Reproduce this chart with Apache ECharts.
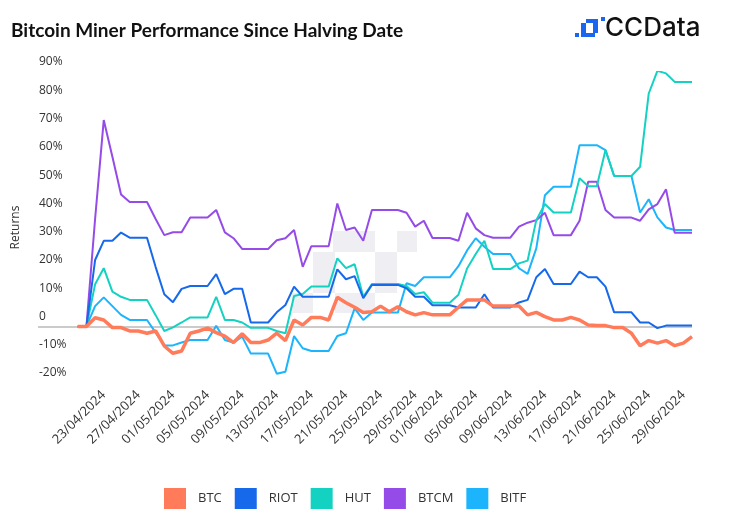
<!DOCTYPE html>
<html><head><meta charset="utf-8">
<script src="https://cdn.jsdelivr.net/npm/echarts@6/dist/echarts.min.js"></script>
<style>html,body{margin:0;padding:0;background:#fff}#c{width:735px;height:517px}</style>
</head><body><div id="c"></div>
<script>
// daily points from the halving date (20/04/2024) to 30/06/2024
const firstDay = [2024, 3, 20];
const dayCount = 72;

const BTC = [0,0,3.1,2.3,-0.4,-0.4,-1.6,-1.6,-2.4,-1.6,-6.9,-9.5,-8.7,-2.4,-1.6,-0.6,-2.2,-3.4,-5.7,-2.6,
  -5.7,-5.7,-4.8,-2.4,-5,2.3,0.5,3.2,3.2,2.3,10.3,8.4,6.8,4.9,5.2,7.2,5.2,7,5.2,4.1,
  4.9,4.1,4.1,4.1,6.8,9.4,9.4,9.4,7.2,7.2,7.2,7.2,4.1,5,3.5,2.3,2.3,3.2,2.3,0.5,
  0.3,0.3,-0.4,-0.4,-2.4,-6.8,-5,-5.9,-5,-6.8,-5.9,-3.6];
const RIOT = [0,0,23.5,30.3,30.3,33.2,31.4,31.4,31.4,21,11.4,8.6,13.3,14.3,14.3,14.3,18.5,11.4,13.3,13.3,
  1.4,1.4,1.4,5,7.6,14.1,10.5,10.5,10.5,10.5,20.2,16.7,17.8,10,14.7,14.7,14.7,14.7,13.5,10.5,
  10.5,7.5,7.5,7.5,6.7,6.7,6.7,11.4,6.7,6.7,6.7,8.5,9.4,17.4,20.3,15,15,15,19.4,17.4,
  17.4,14.1,5,5,5,1.4,1.4,-0.6,0.3,0.3,0.3,0.3];
const HUT = [0,0,14.9,20.6,12.3,10.5,9.4,9.4,9.4,4,-1.6,-0.3,1.4,3.2,3.2,3.2,10.5,2.3,2.3,1.4,
  -0.5,-0.5,-0.5,-1.6,-2.4,10.8,11.5,14.1,14.1,14.1,24.1,20.6,22,10.5,15,15,15,15,14.3,11.5,
  12.1,8.4,8.4,8.4,11.2,20.5,25.6,30.3,20.3,20.3,20.3,22.3,23.3,37.6,43.3,40.3,40.3,40.3,52.4,49.6,
  49.6,62.4,53.2,53.2,53.2,56.5,82.4,90.4,89.5,86.5,86.5,86.5];
const BTCM = [0,0,38,73,60,46.7,44,44,44,38,32.3,33.3,33.3,38.5,38.5,38.5,41.2,33.3,31.2,27.4,
  27.4,27.4,27.4,30.5,31.2,34.1,21.1,28.4,28.4,28.4,43.5,34.1,35,30.3,41.2,41.2,41.2,41.2,40.2,35.3,
  37.4,31.3,31.3,31.3,30.3,40.2,34.7,32.3,31.4,31.4,31.4,35.3,36.7,37.6,40.2,32.3,32.3,32.3,37.4,51.2,
  51.2,41.2,38.5,38.5,38.5,37.4,41.4,43.3,48.5,33.1,33.1,33.1];
const BITF = [0,0,7.2,10.3,7.2,4.1,2.3,2.3,2.3,-2.2,-6.7,-6.7,-5.7,-4.8,-4.8,-4.8,0.2,-4.8,-5.7,-3.6,
  -9.6,-9.6,-9.6,-16.7,-16,-3.4,-7.7,-8.7,-8.7,-8.7,-3.4,-2.4,6.4,2.3,4.9,4.9,4.9,4.9,15.3,14.3,
  17.4,17.4,17.4,17.4,21.3,26.9,31.2,28.2,25.6,25.6,25.6,20.6,18.6,27.6,46.4,49.4,49.4,49.4,64.1,64.1,
  64.1,62.4,53.2,53.2,53.2,40.3,45,38.6,35,34.1,34.1,34.1];

const tickLabels = ['23/04/2024','27/04/2024','01/05/2024','05/05/2024','09/05/2024','13/05/2024',
  '17/05/2024','21/05/2024','25/05/2024','29/05/2024','01/06/2024','05/06/2024','09/06/2024',
  '13/06/2024','17/06/2024','21/06/2024','25/06/2024','29/06/2024'];

const seriesNames = ['BTC','RIOT','HUT','BTCM','BITF'];
const seriesValues = {BTC, RIOT, HUT, BTCM, BITF};
const seriesColors = {BTC:'#ff7b5a', RIOT:'#1669ea', HUT:'#14d2c2', BTCM:'#954be7', BITF:'#1cb5fd'};

const DAY = 864e5;
const t0 = Date.UTC(firstDay[0], firstDay[1], firstDay[2]);
const pad2 = n => (n < 10 ? '0' : '') + n;
const fmt = t => { const d = new Date(t); return pad2(d.getUTCDate()) + '/' + pad2(d.getUTCMonth() + 1) + '/' + d.getUTCFullYear(); };
const dates = Array.from({length: dayCount}, (_, i) => fmt(t0 + i * DAY));   // categories
const tickIndex = tickLabels.map(s => dates.indexOf(s));

const chart = echarts.init(document.getElementById('c'));
const drawOrder = ['BITF','BTCM','HUT','RIOT','BTC'];
const wm = '#efeff3';
const clear = 'rgba(0,0,0,0)';
chart.setOption({
  animation: false,
  backgroundColor: '#fff',
  textStyle: {fontFamily: 'Open Sans'},
  title: {
    text: 'Bitcoin Miner Performance Since Halving Date',
    left: 6, top: 16,
    textStyle: {fontFamily: 'Lato', fontWeight: 'bold', fontSize: 19, color: '#111'}
  },
  graphic: [
    {type: 'group', left: 292, top: 231, z: 0, silent: true, children: [
      {type: 'rect', shape: {x: 41, y: 0, width: 42, height: 21}, style: {fill: wm}},
      {type: 'rect', shape: {x: 105, y: 0, width: 20, height: 21}, style: {fill: wm}},
      {type: 'rect', shape: {x: 21, y: 21, width: 22, height: 41}, style: {fill: wm}},
      {type: 'rect', shape: {x: 83, y: 21, width: 22, height: 41}, style: {fill: wm}},
      {type: 'rect', shape: {x: 0, y: 62, width: 21, height: 20}, style: {fill: wm}},
      {type: 'rect', shape: {x: 43, y: 62, width: 40, height: 20}, style: {fill: wm}}
    ]},
    {type: 'group', left: 575, top: 17, silent: true, children: [
      {type: 'rect', shape: {x: 0, y: 16, width: 4, height: 4}, style: {fill: '#1b66f0'}},
      {type: 'rect', shape: {x: 6, y: 6, width: 5, height: 14}, style: {fill: '#1b66f0'}},
      {type: 'rect', shape: {x: 6, y: 16, width: 14, height: 4}, style: {fill: '#1b66f0'}},
      {type: 'rect', shape: {x: 11, y: 2, width: 12, height: 4}, style: {fill: '#1b66f0'}},
      {type: 'rect', shape: {x: 18, y: 2, width: 5, height: 14}, style: {fill: '#1b66f0'}},
      {type: 'rect', shape: {x: 26, y: 0, width: 4, height: 4}, style: {fill: '#1b66f0'}}
    ]},
    {type: 'text', left: 605, top: 15, silent: true,
      style: {text: 'CCData', font: '500 26px Inter', fill: '#111'}}
  ],
  legend: {
    data: seriesNames,
    left: 164, top: 488, padding: 0,
    itemWidth: 22, itemHeight: 21, itemGap: 13,
    icon: 'rect',
    textStyle: {fontSize: 13, color: '#333', padding: [0, 0, 0, 7]}
  },
  grid: {left: 38, right: 43, top: 72, bottom: 134, containLabel: false},
  xAxis: {
    type: 'value',
    min: -4.6,
    max: dayCount - 1,
    axisLine: {show: false},
    axisTick: {show: false},
    splitLine: {show: false},
    axisLabel: {
      customValues: tickIndex,
      formatter: v => dates[Math.round(v)] || '',
      rotate: 45, margin: 10,
      fontSize: 13, color: '#333', hideOverlap: false
    }
  },
  yAxis: {
    type: 'value', min: -20, max: 90, interval: 10,
    name: 'Returns', nameLocation: 'middle', nameGap: 16,
    nameTextStyle: {fontSize: 12, color: '#333'},
    axisLine: {show: false}, axisTick: {show: false},
    axisLabel: {
      inside: true, margin: 1, align: 'left', verticalAlign: 'bottom',
      lineHeight: 12, padding: [0, 0, 4, 0],
      fontSize: 12, color: '#333',
      formatter: v => (v === 0 ? '0' : v + '%')
    },
    splitLine: {show: true, lineStyle: {width: 2,
      color: [clear, clear, '#cbcbcb', clear, clear, clear, clear, clear, clear, clear, clear, clear]}}
  },
  series: drawOrder.map(name => ({
    name, type: 'line', showSymbol: false, symbol: 'none',
    color: seriesColors[name],
    lineStyle: {width: name === 'BTC' ? 3.5 : 2, color: seriesColors[name]},
    itemStyle: {color: seriesColors[name]},
    z: name === 'BTC' ? 5 : 3,
    data: seriesValues[name].map((v, i) => [i, v])
  }))
});
</script>
</body></html>
